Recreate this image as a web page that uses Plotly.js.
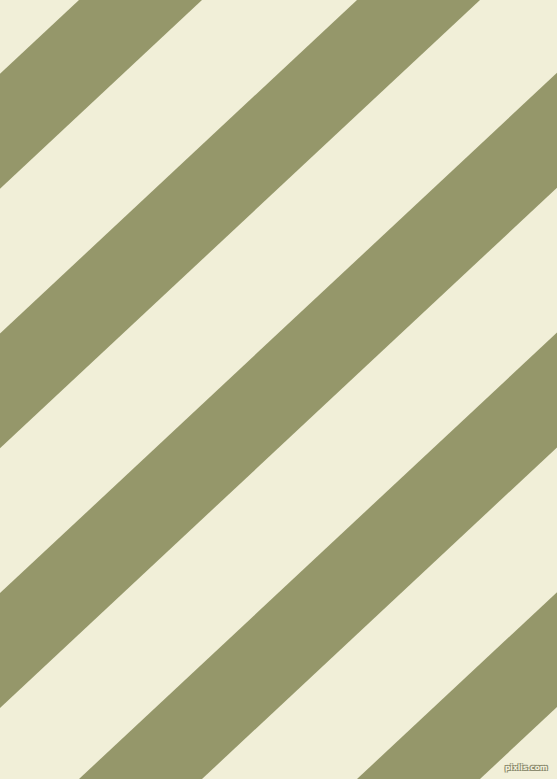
<!DOCTYPE html>
<html>
<head>
<meta charset="utf-8">
<script src="https://cdn.plot.ly/plotly-3.0.1.min.js"></script>
<style>
  html, body { margin: 0; padding: 0; background: #f1efd8; }
  #plot-area { width: 557px; height: 779px; }
</style>
</head>
<body>
<div id="plot-area"></div>
<script>
// green stripes, measured where they cross the top edge (px from left)
const stripeLeft = [79, 357, 635, 913, 1191]
const stripeRight = [202, 480, 758, 1036, 1314]
// how far a stripe moves left when going from the top edge to the bottom edge
const bottomShift = 834

const W = 557
const H = 779
const green = '#95976a'
const cream = '#f1efd8'

function stripeTrace(i) {
  const a = stripeLeft[i]
  const b = stripeRight[i]
  return {
    x: [a, b, b - bottomShift, a - bottomShift, a],
    y: [0, 0, H, H, 0],
    mode: 'lines',
    fill: 'toself',
    fillcolor: green,
    line: {width: 0, color: green},
    hoverinfo: 'skip',
    showlegend: false,
    type: 'scatter'
  }
}

let traces = []
for (let i = 0; i < stripeLeft.length; i++) {
  traces.push(stripeTrace(i))
}

const layout = {
  width: W,
  height: H,
  margin: {l: 0, r: 0, t: 0, b: 0, pad: 0},
  paper_bgcolor: cream,
  plot_bgcolor: cream,
  xaxis: {range: [0, W], visible: false, fixedrange: true},
  yaxis: {range: [H, 0], visible: false, fixedrange: true},
  annotations: [{
    text: 'pixlis.com',
    xref: 'paper', yref: 'paper',
    x: 0.988, y: 0.006,
    xanchor: 'right', yanchor: 'bottom',
    showarrow: false,
    font: {family: 'DejaVu Sans', size: 7.5, weight: 'bold', color: '#f4f2de', shadow: '1px 1px 0 #8c8c70, -1px -1px 0 #8c8c70, 1px -1px 0 #8c8c70, -1px 1px 0 #8c8c70'}
  }]
}

Plotly.newPlot('plot-area', traces, layout, {displayModeBar: false, staticPlot: true})
</script>
</body>
</html>
